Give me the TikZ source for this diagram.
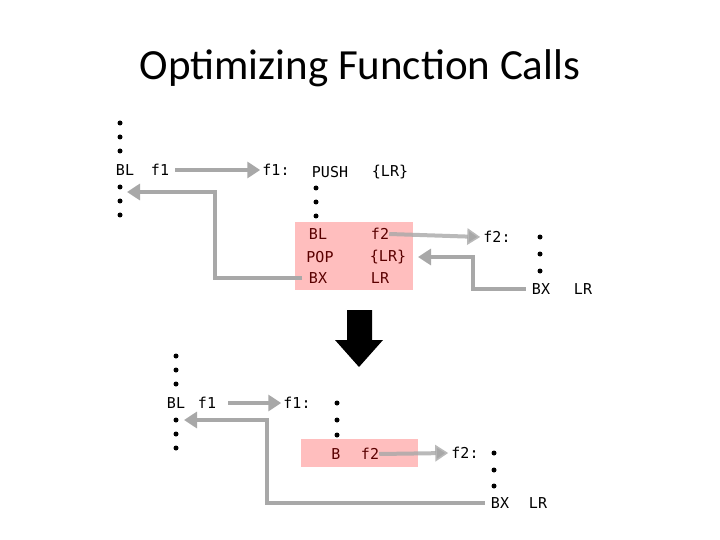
\documentclass[tikz,border=0pt]{standalone}
\usepackage{fontspec}
\setmainfont{DejaVu Sans Mono}
\newfontfamily\titlefont{Carlito}
\usetikzlibrary{arrows.meta}
\definecolor{garr}{RGB}{168,168,168}
\definecolor{pinkbg}{RGB}{255,190,190}
\definecolor{dred}{RGB}{90,0,0}
\begin{document}
\begin{tikzpicture}[x=1pt,y=-1pt,
  t/.style={font=\fontsize{15}{17}\selectfont,inner sep=0pt},
  rt/.style={t,text=dred},
  dot/.style={circle,fill=black,inner sep=0pt,minimum size=5pt},
  ga/.style={draw=garr,line width=4pt,-{Triangle[length=13pt,width=16pt]}}]
\useasboundingbox (0,0) rectangle (720,540);
\node[font=\titlefont\fontsize{43}{48}\selectfont] (title) at (360,68) {Optimizing Function Calls};
% top
\foreach \y [count=\i] in {123,137,151,187,201,215} \node[dot] (ta\i) at (120,\y) {};
\node[t] (bl1) at (125,170) {BL};
\node[t] (f1a) at (160,170) {f1};
\node[t] (f1b) at (276,170) {f1:};
\node[t] (push) at (330,172) {PUSH};
\node[t] (lr1) at (390,172) {\{LR\}};
\foreach \y [count=\i] in {188,202,216} \node[dot] (tb\i) at (316,\y) {};
\fill[pinkbg] (295,222) rectangle (413,290);
\node[rt] (bl2) at (318,234) {BL};
\node[rt] (f2a) at (380,234) {f2};
\node[rt] (pop) at (320,257) {POP};
\node[rt] (lr2) at (388,257) {\{LR\}};
\node[rt] (bx1) at (318,278) {BX};
\node[rt] (lr3) at (380,278) {LR};
\node[t] (f2b) at (497,237) {f2:};
\foreach \y [count=\i] in {237,254,271} \node[dot] (tc\i) at (540,\y) {};
\node[t] (bx2) at (541,289) {BX};
\node[t] (lr4) at (583,289) {LR};
\draw[ga] ([xshift=6pt]f1a.east) -- ([xshift=-2pt]f1b.west);
\draw[ga,draw opacity=0.8] (f2a.east) -- ([xshift=-3pt]f2b.west);
\coordinate (e1) at (127,192);
\draw[ga] ([xshift=-7pt]bx1.west) -| (215,192) -- (e1);
\coordinate (e2) at (418,257);
\draw[ga] ([xshift=-6pt]bx2.west) -| (473,257) -- (e2);
% big arrow
\fill[black] (347,310) -- (372,310) -- (372,340) -- (383,340) -- (359,367) -- (335,340) -- (347,340) -- cycle;
% bottom
\foreach \y [count=\i] in {356,370,384,420,434,448} \node[dot] (ba\i) at (176,\y) {};
\node[t] (bl3) at (176,403) {BL};
\node[t] (f1c) at (207,403) {f1};
\node[t] (f1d) at (297,403) {f1:};
\foreach \y [count=\i] in {403,420,435} \node[dot] (bb\i) at (337,\y) {};
\fill[pinkbg] (301,439) rectangle (418,467);
\node[rt] (b) at (336,454) {B};
\node[rt] (f2c) at (370,454) {f2};
\node[t] (f2d) at (465,453) {f2:};
\foreach \y [count=\i] in {453,470,486} \node[dot] (bc\i) at (494,\y) {};
\node[t] (bx3) at (500,503) {BX};
\node[t] (lr5) at (538,503) {LR};
\draw[ga] ([xshift=12pt]f1c.east) -- ([xshift=-2pt]f1d.west);
\draw[ga,draw opacity=0.8] (f2c.east) -- ([xshift=-3pt]f2d.west);
\coordinate (e3) at (184,420);
\draw[ga] ([xshift=-6pt]bx3.west) -| (267,420) -- (e3);
\end{tikzpicture}
\end{document}
